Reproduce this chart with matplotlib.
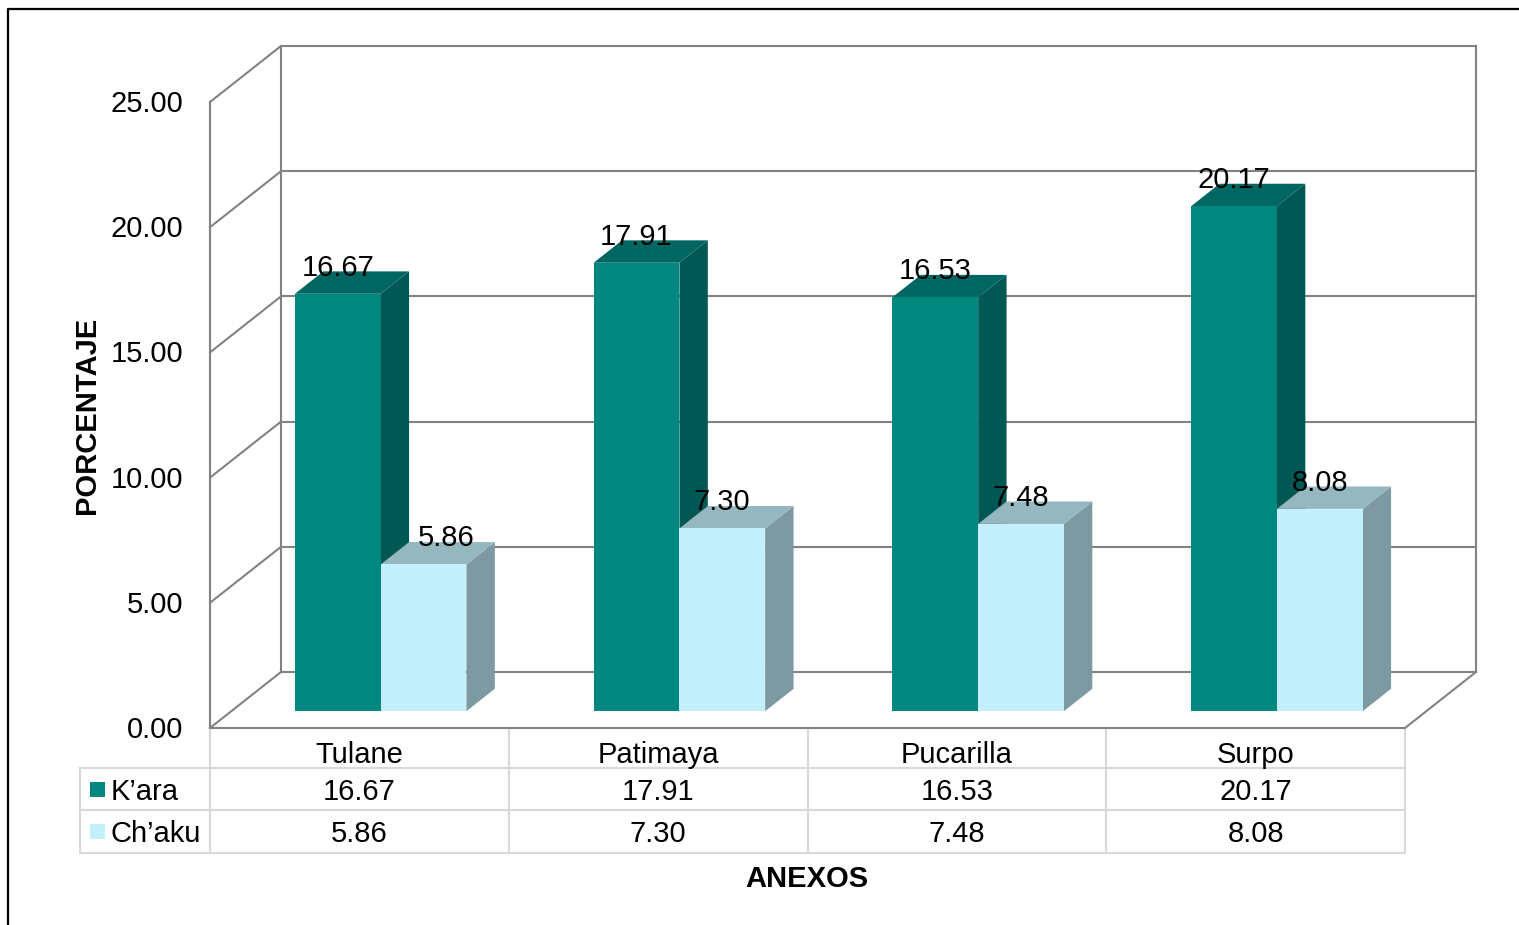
import numpy as np
import matplotlib
matplotlib.use("Agg")
import matplotlib.pyplot as plt
from matplotlib.patches import Polygon, Rectangle

plt.rcParams['font.family'] = ['Liberation Sans', 'DejaVu Sans']

anexos = ['Tulane', 'Patimaya', 'Pucarilla', 'Surpo']
series = ['K\u2019ara', 'Ch\u2019aku']
kara = [16.67, 17.91, 16.53, 20.17]
chaku = [5.86, 7.30, 7.48, 8.08]
yticks = [0, 5, 10, 15, 20, 25]

# face colours: front, top, side
colors = [('#00877F', '#006662', '#005855'),
          ('#C4EFFD', '#95B8C0', '#7D99A1')]

FS = 21
W, H = 1519, 925
fig = plt.figure(figsize=(W / 100, H / 100), dpi=100)

# data axes: x in category units, y in percent; depth goes up and right
ax = fig.add_axes([0, 0, 1, 1])
px_cat, px_val = 298.75, 25.04
x0px, y0px = 210, 728
ax.set_xlim(-x0px / px_cat, (W - x0px) / px_cat)
ax.set_ylim((y0px - H) / px_val, y0px / px_val)
ax.axis('off')
DX, DY = 71 / px_cat, 56 / px_val


def proj(x, v, d):
    return x + d * DX, v + d * DY


ncat = len(anexos)
gc = '#828282'
top = yticks[-1]
# walls and floor
for v in yticks:
    ax.plot(*zip(proj(0, v, 1), proj(ncat, v, 1)), color=gc, lw=1.5, zorder=1)
    ax.plot(*zip(proj(0, v, 0), proj(0, v, 1)), color=gc, lw=1.5, zorder=1)
for x, d in [(0, 0), (0, 1), (ncat, 1)]:
    ax.plot(*zip(proj(x, 0, d), proj(x, top, d)), color=gc, lw=1.5, zorder=1)
ax.plot(*zip(proj(0, 0, 0), proj(ncat, 0, 0)), color=gc, lw=1.5, zorder=1)
ax.plot(*zip(proj(ncat, 0, 0), proj(ncat, 0, 1)), color=gc, lw=1.5, zorder=1)

for v in yticks:
    ax.text(-27 / px_cat, v - 2 / px_val, f'{v:.2f}', ha='right', va='center',
            fontsize=FS)

# 3d columns
bw = 0.287
d0, d1 = 0.3, 0.7
label_dx = {(0, 1): 0.077}
for s, vals in enumerate([kara, chaku]):
    fc, tc, sc = colors[s]
    for i, v in enumerate(vals):
        xl = i + 0.5 - bw + s * bw
        xr = xl + bw
        front = [proj(xl, 0, d0), proj(xr, 0, d0), proj(xr, v, d0), proj(xl, v, d0)]
        side = [proj(xr, 0, d0), proj(xr, 0, d1), proj(xr, v, d1), proj(xr, v, d0)]
        topf = [proj(xl, v, d0), proj(xr, v, d0), proj(xr, v, d1), proj(xl, v, d1)]
        z = 3 + s
        ax.add_patch(Polygon(side, closed=True, fc=sc, ec='none', zorder=z))
        ax.add_patch(Polygon(topf, closed=True, fc=tc, ec='none', zorder=z))
        ax.add_patch(Polygon(front, closed=True, fc=fc, ec='none', zorder=z))
        lx, ly = proj((xl + xr) / 2, v, d0)
        ax.text(lx + label_dx.get((i, s), 0), ly + 18 / px_val, f'{v:.2f}',
                ha='center', va='baseline', fontsize=FS, zorder=10)

# data table and titles in pixel coordinates
pa = fig.add_axes([0, 0, 1, 1])
pa.set_xlim(0, W)
pa.set_ylim(H, 0)
pa.axis('off')
pa.patch.set_alpha(0)
tc_ = '#D9D9D9'
edges = [x0px + i * px_cat for i in range(ncat + 1)]
rows = [768, 810, 853]
for x in edges:
    pa.plot([x, x], [y0px + 2, rows[-1]], color=tc_, lw=1.5)
for y in rows:
    pa.plot([80, edges[-1]], [y, y], color=tc_, lw=1.5)
pa.plot([80, 80], [rows[0], rows[-1]], color=tc_, lw=1.5)

for i, name in enumerate(anexos):
    cx = (edges[i] + edges[i + 1]) / 2
    pa.text(cx, 755, name, ha='center', va='center', fontsize=FS)
    pa.text(cx, 792, f'{kara[i]:.2f}', ha='center', va='center', fontsize=FS)
    pa.text(cx, 834, f'{chaku[i]:.2f}', ha='center', va='center', fontsize=FS)

for s, (name, yc) in enumerate(zip(series, [790, 832])):
    pa.add_patch(Rectangle((90, yc - 8), 15, 15, fc=colors[s][0], ec='none'))
    pa.text(111, yc + 2, name, ha='left', va='center', fontsize=FS)

pa.text(87, 415, 'PORCENTAJE', rotation=90, ha='center', va='center',
        fontsize=FS, fontweight='bold')
pa.text(807, 879, 'ANEXOS', ha='center', va='center', fontsize=FS,
        fontweight='bold')

# outer frame
pa.plot([8, 8, W], [H, 9, 9], color='black', lw=1.6)

fig.savefig('out.png', dpi=100)
